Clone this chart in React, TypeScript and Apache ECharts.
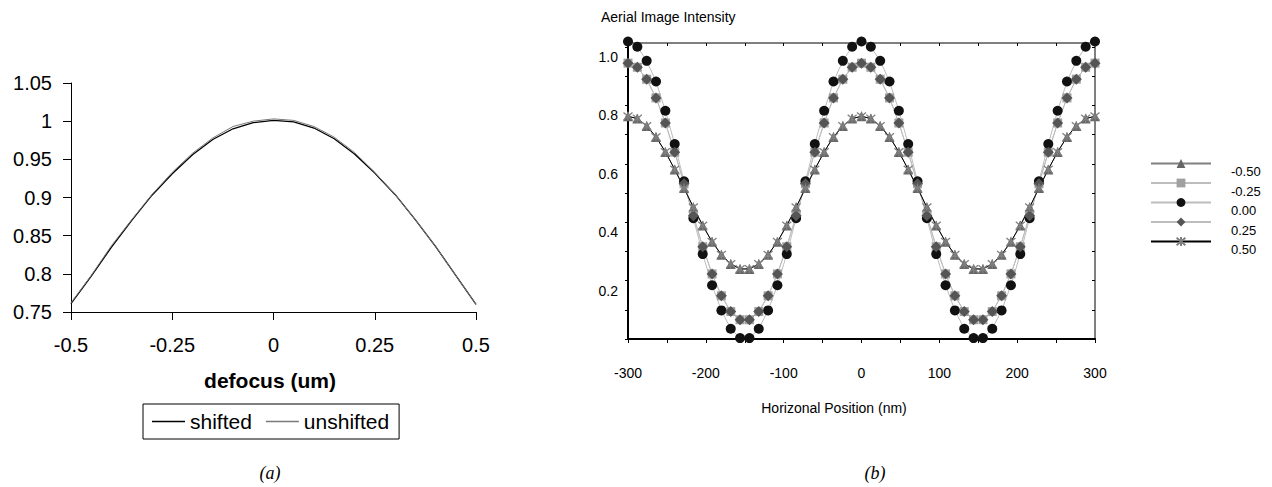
import React, { useEffect, useRef } from "react";
import * as echarts from "echarts";

// ---- Chart (a): peak intensity vs defocus ----
const defocus = [-0.5, -0.45, -0.4, -0.35, -0.3, -0.25, -0.2, -0.15, -0.1, -0.05, 0, 0.05, 0.1, 0.15, 0.2, 0.25, 0.3, 0.35, 0.4, 0.45, 0.5];
const shifted = [0.761, 0.797, 0.835, 0.870, 0.903, 0.931, 0.956, 0.976, 0.990, 0.998, 1.001, 0.999, 0.991, 0.977, 0.957, 0.932, 0.904, 0.871, 0.836, 0.798, 0.760];
const unshifted = [0.762, 0.798, 0.837, 0.871, 0.904, 0.933, 0.958, 0.978, 0.993, 1.000, 1.003, 1.001, 0.993, 0.979, 0.959, 0.933, 0.904, 0.871, 0.836, 0.798, 0.760];
const legendA = ["shifted", "unshifted"];

// ---- Chart (b): aerial image intensity vs horizontal position ----
const positions = [-300, -288, -276, -264, -252, -240, -228, -216, -204, -192, -180, -168, -156, -144, -132, -120, -108, -96, -84, -72, -60, -48, -36, -24, -12, 0, 12, 24, 36, 48, 60, 72, 84, 96, 108, 120, 132, 144, 156, 168, 180, 192, 204, 216, 228, 240, 252, 264, 276, 288, 300];
const focusNames = ["-0.50", "-0.25", "0.00", "0.25", "0.50"];
const intensityM050 = [
  0.763, 0.755, 0.730, 0.692, 0.641, 0.581, 0.517, 0.451, 0.389, 0.333, 0.289, 0.257, 0.240,
  0.240, 0.257, 0.289, 0.333, 0.389, 0.451, 0.517, 0.581, 0.641, 0.692, 0.730, 0.755, 0.763,
  0.755, 0.730, 0.692, 0.641, 0.581, 0.517, 0.451, 0.389, 0.333, 0.289, 0.257, 0.240,
  0.240, 0.257, 0.289, 0.333, 0.389, 0.451, 0.517, 0.581, 0.641, 0.692, 0.730, 0.755, 0.763,
];
const intensityM025 = [
  0.945, 0.931, 0.890, 0.826, 0.740, 0.640, 0.532, 0.422, 0.316, 0.223, 0.148, 0.094, 0.066,
  0.066, 0.094, 0.148, 0.223, 0.316, 0.422, 0.532, 0.640, 0.740, 0.826, 0.890, 0.931, 0.945,
  0.931, 0.890, 0.826, 0.740, 0.640, 0.532, 0.422, 0.316, 0.223, 0.148, 0.094, 0.066,
  0.066, 0.094, 0.148, 0.223, 0.316, 0.422, 0.532, 0.640, 0.740, 0.826, 0.890, 0.931, 0.945,
];
const intensity000 = [
  1.019, 1.001, 0.953, 0.882, 0.782, 0.668, 0.540, 0.414, 0.291, 0.184, 0.098, 0.035, 0.003,
  0.003, 0.035, 0.098, 0.184, 0.291, 0.414, 0.540, 0.668, 0.782, 0.882, 0.953, 1.001, 1.019,
  1.001, 0.953, 0.882, 0.782, 0.668, 0.540, 0.414, 0.291, 0.184, 0.098, 0.035, 0.003,
  0.003, 0.035, 0.098, 0.184, 0.291, 0.414, 0.540, 0.668, 0.782, 0.882, 0.953, 1.001, 1.019,
];
const intensityP025 = [
  0.945, 0.931, 0.890, 0.826, 0.740, 0.640, 0.532, 0.422, 0.316, 0.223, 0.148, 0.094, 0.066,
  0.066, 0.094, 0.148, 0.223, 0.316, 0.422, 0.532, 0.640, 0.740, 0.826, 0.890, 0.931, 0.945,
  0.931, 0.890, 0.826, 0.740, 0.640, 0.532, 0.422, 0.316, 0.223, 0.148, 0.094, 0.066,
  0.066, 0.094, 0.148, 0.223, 0.316, 0.422, 0.532, 0.640, 0.740, 0.826, 0.890, 0.931, 0.945,
];
const intensityP050 = [
  0.763, 0.755, 0.730, 0.692, 0.641, 0.581, 0.517, 0.451, 0.389, 0.333, 0.289, 0.257, 0.240,
  0.240, 0.257, 0.289, 0.333, 0.389, 0.451, 0.517, 0.581, 0.641, 0.692, 0.730, 0.755, 0.763,
  0.755, 0.730, 0.692, 0.641, 0.581, 0.517, 0.451, 0.389, 0.333, 0.289, 0.257, 0.240,
  0.240, 0.257, 0.289, 0.333, 0.389, 0.451, 0.517, 0.581, 0.641, 0.692, 0.730, 0.755, 0.763,
];

const SANS = "'Liberation Sans', Arial, Helvetica, sans-serif";
const SERIF = "'Liberation Serif', 'Times New Roman', serif";
const ASTERISK = "path://M0,0L10,10M10,0L0,10M5,-1L5,11";

export default function App() {
  const ref = useRef<HTMLDivElement>(null);

  useEffect(() => {
    if (!ref.current) return;
    const chart = echarts.init(ref.current, null, { renderer: "svg" });

    const pair = (xs: number[], ys: number[]) => xs.map((x, i) => [x, ys[i]]);
    const rightSeries = [
      { name: focusNames[0], data: intensityM050, symbol: "triangle", symbolSize: 10, color: "#666666", line: "#808080", border: 0 },
      { name: focusNames[1], data: intensityM025, symbol: "rect", symbolSize: 9, color: "#a0a0a0", line: "#bdbdbd", border: 0 },
      { name: focusNames[2], data: intensity000, symbol: "circle", symbolSize: 10, color: "#111111", line: "#bdbdbd", border: 0 },
      { name: focusNames[3], data: intensityP025, symbol: "diamond", symbolSize: 11, color: "#555555", line: "#bdbdbd", border: 0 },
      { name: focusNames[4], data: intensityP050, symbol: ASTERISK, symbolSize: 9, color: "#808080", line: "#000000", border: 1.3 },
    ].map((s) => ({
      type: "line",
      name: s.name,
      xAxisIndex: 1,
      yAxisIndex: 1,
      data: pair(positions, s.data),
      symbol: s.symbol,
      symbolSize: s.symbolSize,
      clip: false,
      lineStyle: { color: s.line, width: 1 },
      itemStyle: {
        color: s.color,
        borderColor: s.color,
        borderWidth: s.border,
      },
      emphasis: { disabled: true },
    }));

    const option: any = {
      animation: false,
      backgroundColor: "#ffffff",
      textStyle: { fontFamily: SANS },
      grid: [
        { left: 71, top: 83, width: 405, height: 229, show: false },
        { left: 628, top: 43, width: 467, height: 296, show: true, borderColor: "#000", borderWidth: 1, backgroundColor: "transparent" },
      ],
      xAxis: [
        {
          gridIndex: 0, type: "value", min: -0.5, max: 0.5, interval: 0.25,
          axisLine: { onZero: false, lineStyle: { color: "#000", width: 1 } },
          axisTick: { length: 8, lineStyle: { color: "#000" } },
          axisLabel: { color: "#000", fontSize: 20, margin: 23, fontFamily: SANS },
          splitLine: { show: false },
        },
        {
          gridIndex: 1, type: "value", min: -300, max: 300, interval: 50,
          axisLine: { onZero: false, lineStyle: { color: "#000", width: 2 } },
          axisTick: { length: 4, lineStyle: { color: "#000" } },
          axisLabel: {
            color: "#000", fontSize: 14, margin: 27, fontFamily: SANS,
            formatter: (v: number) => (Math.abs(v % 100) < 1e-9 ? String(v) : ""),
          },
          splitLine: { show: false },
        },
        {
          gridIndex: 1, type: "value", min: -300, max: 300, interval: 50,
          axisLine: { show: false, onZero: false },
          axisTick: { inside: true, length: 3, lineStyle: { color: "#000" } },
          axisLabel: { show: false },
          splitLine: { show: false },
        },
      ],
      yAxis: [
        {
          gridIndex: 0, type: "value", min: 0.75, max: 1.05, interval: 0.05,
          axisLine: { show: true, onZero: false, lineStyle: { color: "#000", width: 1 } },
          axisTick: { show: true, length: 8, lineStyle: { color: "#000" } },
          axisLabel: {
            color: "#000", fontSize: 20, margin: 19, fontFamily: SANS,
            formatter: (v: number) => String(parseFloat(v.toFixed(2))),
          },
          splitLine: { show: false },
        },
        {
          gridIndex: 1, type: "value", min: 0, max: 1.014, interval: 0.1,
          axisLine: { show: true, onZero: false, lineStyle: { color: "#000", width: 2 } },
          axisTick: { show: true, length: 3, lineStyle: { color: "#000" } },
          axisLabel: {
            color: "#000", fontSize: 14, margin: 10, fontFamily: SANS,
            verticalAlign: "top", padding: [3, 0, 0, 0],
            formatter: (v: number) => {
              const r = Math.round(v * 10);
              if (Math.abs(v * 10 - r) > 1e-6 || r <= 0 || r % 2 !== 0) return "";
              return (r / 10).toFixed(1);
            },
          },
          splitLine: { show: false },
        },
        {
          gridIndex: 1, type: "value", min: 0, max: 1.014, interval: 0.1,
          axisLine: { show: false, onZero: false },
          axisTick: { show: true, inside: true, length: 3, lineStyle: { color: "#000" } },
          axisLabel: { show: false },
          splitLine: { show: false },
        },
      ],
      legend: [
        {
          data: [
            { name: legendA[0], icon: "rect", itemStyle: { color: "#000" } },
            { name: legendA[1], icon: "rect", itemStyle: { color: "#7a7a7a" } },
          ],
          selectedMode: false,
          orient: "horizontal",
          left: 143,
          top: 404,
          padding: [7, 10, 7, 9],
          borderColor: "#000",
          borderWidth: 1,
          itemWidth: 33,
          itemHeight: 1.3,
          itemGap: 14,
          textStyle: { fontSize: 21, color: "#000", fontFamily: SANS },
        },
        {
          data: focusNames,
          selectedMode: false,
          orient: "vertical",
          left: 1150,
          top: 149,
          padding: 0,
          itemWidth: 60,
          itemHeight: 11,
          itemGap: -9.5,
          formatter: (name: string) => `{a|${name}}`,
          textStyle: {
            fontSize: 13, color: "#000", fontFamily: SANS,
            rich: { a: { fontSize: 13, lineHeight: 18, padding: [16, 0, 0, 15], color: "#000", fontFamily: SANS } },
          },
        },
      ],
      graphic: [
        { type: "text", x: 270, y: 380, style: { text: "defocus (um)", fontSize: 21, fontWeight: "bold", fontFamily: SANS, fill: "#000", align: "center", verticalAlign: "middle" } },
        { type: "text", x: 270, y: 473, style: { text: "(a)", fontSize: 18, fontStyle: "italic", fontFamily: SERIF, fill: "#000", align: "center", verticalAlign: "middle" } },
        { type: "text", x: 601, y: 17, style: { text: "Aerial Image Intensity", fontSize: 14, fontFamily: SANS, fill: "#000", align: "left", verticalAlign: "middle" } },
        { type: "text", x: 834, y: 408, style: { text: "Horizonal Position (nm)", fontSize: 14, fontFamily: SANS, fill: "#000", align: "center", verticalAlign: "middle" } },
        { type: "text", x: 875, y: 473, style: { text: "(b)", fontSize: 18, fontStyle: "italic", fontFamily: SERIF, fill: "#000", align: "center", verticalAlign: "middle" } },
      ],
      series: [
        {
          type: "line", name: legendA[0], xAxisIndex: 0, yAxisIndex: 0,
          data: pair(defocus, shifted), symbol: "none",
          lineStyle: { color: "#000", width: 1.3 }, itemStyle: { color: "#000" },
          emphasis: { disabled: true },
        },
        {
          type: "line", name: legendA[1], xAxisIndex: 0, yAxisIndex: 0,
          data: pair(defocus, unshifted), symbol: "none",
          lineStyle: { color: "#7a7a7a", width: 1 }, itemStyle: { color: "#7a7a7a" },
          emphasis: { disabled: true },
        },
        ...rightSeries,
      ],
    };

    chart.setOption(option);
    return () => chart.dispose();
  }, []);

  return (
    <div
      ref={ref}
      style={{ position: "fixed", left: 0, top: 0, width: 1272, height: 487, background: "#fff" }}
    />
  );
}
